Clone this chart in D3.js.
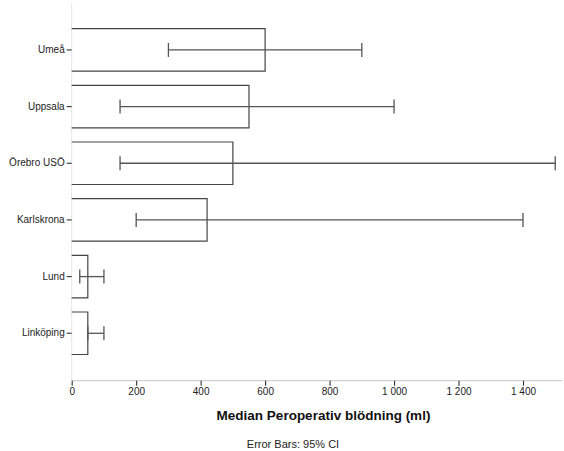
<!DOCTYPE html>
<html>
<head>
<meta charset="utf-8">
<script src="https://cdn.jsdelivr.net/npm/d3@7"></script>
<style>
  html, body { margin: 0; padding: 0; background: #fff; }
  svg { display: block; font-family: "Liberation Sans", Arial, sans-serif; }
</style>
</head>
<body>
<svg id="chart" width="564" height="451"></svg>
<script>
// Hospitals, top to bottom
const hospitals = ["Umeå", "Uppsala", "Örebro USÖ", "Karlskrona", "Lund", "Linköping"];
// Median peroperative bleeding (ml)
const medians = [600, 550, 500, 420, 50, 50];
// 95% confidence interval bounds (ml)
const ciLow = [300, 150, 150, 200, 25, 50];
const ciHigh = [900, 1000, 1500, 1400, 100, 100];
// X axis tick values
const xTicks = [0, 200, 400, 600, 800, 1000, 1200, 1400];

const rows = hospitals.map((h, i) => ({ h, m: medians[i], lo: ciLow[i], hi: ciHigh[i] }));

const svg = d3.select("#chart");
const left = 71.7, axisY = 380.7, right = 562;

const x = d3.scaleLinear().domain([0, 1400]).range([left, 523]);
const y = d3.scaleBand().domain(hospitals).range([21.6, 361.6])
  .paddingInner(0.25).paddingOuter(0.125);

const fmt = v => d3.format(",")(v).replace(/,/g, " ");

// Axis frame lines
svg.append("line").attr("x1", left).attr("x2", left).attr("y1", 3).attr("y2", axisY)
  .attr("stroke", "#e6e6e6").attr("stroke-width", 1);
svg.append("line").attr("x1", left).attr("x2", right).attr("y1", axisY).attr("y2", axisY)
  .attr("stroke", "#d0d0d0").attr("stroke-width", 1.2);

// X axis
const xAxis = svg.append("g").attr("transform", `translate(0,${axisY})`)
  .call(d3.axisBottom(x).tickValues(xTicks).tickFormat(fmt).tickSize(5).tickPadding(2));
xAxis.select(".domain").remove();
xAxis.selectAll(".tick line").attr("stroke", "#333").attr("stroke-width", 1.1);
xAxis.selectAll(".tick text").attr("fill", "#222").attr("font-size", 10)
  .attr("font-family", "Liberation Sans, Arial, sans-serif");

// Y axis
const yAxis = svg.append("g").attr("transform", `translate(${left},0)`)
  .call(d3.axisLeft(y).tickSize(5).tickPadding(2));
yAxis.select(".domain").remove();
yAxis.selectAll(".tick line").attr("stroke", "#333").attr("stroke-width", 1.1);
yAxis.selectAll(".tick text").attr("fill", "#222").attr("font-size", 10)
  .attr("font-family", "Liberation Sans, Arial, sans-serif");

// Bars (open on the axis side)
svg.append("g").selectAll("path").data(rows).join("path")
  .attr("d", d => {
    const y0 = y(d.h), y1 = y(d.h) + y.bandwidth(), x1 = x(d.m);
    return `M${left},${y0}H${x1}V${y1}H${left}`;
  })
  .attr("fill", "none").attr("stroke", "#444").attr("stroke-width", 1.2);

// Error bars
const eb = svg.append("g").attr("stroke", "#555").attr("stroke-width", 1.3).attr("fill", "none");
rows.forEach(d => {
  const cy = y(d.h) + y.bandwidth() / 2;
  eb.append("line").attr("x1", x(d.lo)).attr("x2", x(d.hi)).attr("y1", cy).attr("y2", cy);
  eb.append("line").attr("x1", x(d.lo)).attr("x2", x(d.lo)).attr("y1", cy - 7).attr("y2", cy + 7);
  eb.append("line").attr("x1", x(d.hi)).attr("x2", x(d.hi)).attr("y1", cy - 7).attr("y2", cy + 7);
});

// Axis title and footnote
svg.append("text").attr("x", 323.5).attr("y", 420).attr("text-anchor", "middle")
  .attr("font-size", 13.5).attr("font-weight", "bold").attr("fill", "#111")
  .text("Median Peroperativ blödning (ml)");
svg.append("text").attr("x", 293).attr("y", 448).attr("text-anchor", "middle")
  .attr("font-size", 11).attr("fill", "#222")
  .text("Error Bars: 95% CI");
</script>
</body>
</html>
